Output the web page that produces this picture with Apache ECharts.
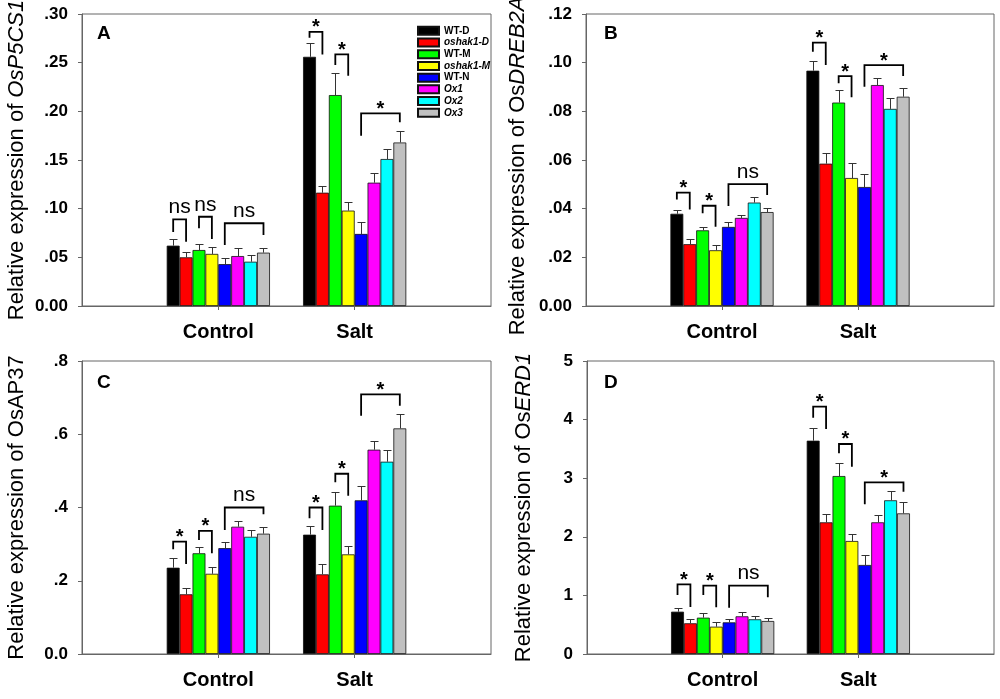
<!DOCTYPE html>
<html><head><meta charset="utf-8">
<script src="https://cdn.jsdelivr.net/npm/echarts@6/dist/echarts.min.js"></script>
<style>html,body{margin:0;padding:0;background:#fff}#c{width:1000px;height:699px}</style>
</head><body><div id="c"></div>
<script>
// ---------- data ----------
const categories = ['', 'Control', 'Salt', ''];
const genotypes = ['WT-D', 'oshak1-D', 'WT-M', 'oshak1-M', 'WT-N', 'Ox1', 'Ox2', 'Ox3'];
const italicNames = ['oshak1-D', 'oshak1-M', 'Ox1', 'Ox2', 'Ox3'];

// Panel A : OsP5CS1
const aControl    = [0.062, 0.050, 0.0575, 0.0535, 0.043, 0.0513, 0.0455, 0.0548];
const aControlErr = [0.007, 0.005, 0.006, 0.007, 0.006, 0.008, 0.007, 0.005];
const aSalt       = [0.256, 0.1164, 0.2167, 0.098, 0.074, 0.1267, 0.151, 0.168];
const aSaltErr    = [0.014, 0.007, 0.023, 0.009, 0.012, 0.0096, 0.010, 0.012];
const aTicks = ['0.00', '.05', '.10', '.15', '.20', '.25', '.30'];
// [group, fromBar, toBar, top, leftLegEnd, rightLegEnd, label]
const aBrackets = [
  [1, 0, 1, 0.089, 0.076, 0.066, 'ns'],
  [1, 2, 3, 0.0917, 0.080, 0.0688, 'ns'],
  [1, 4, 7, 0.085, 0.0626, 0.073, 'ns'],
  [2, 0, 1, 0.2817, 0.2755, 0.2585, '*'],
  [2, 2, 3, 0.2585, 0.2475, 0.2366, '*'],
  [2, 4, 7, 0.198, 0.175, 0.1887, '*']
];

// Panel B : OsDREB2A
const bControl    = [0.0379, 0.0254, 0.0311, 0.0229, 0.0325, 0.0362, 0.0425, 0.0386];
const bControlErr = [0.0016, 0.0020, 0.0012, 0.0020, 0.0022, 0.0013, 0.0023, 0.0017];
const bSalt       = [0.0967, 0.0585, 0.0836, 0.0526, 0.0489, 0.0908, 0.081, 0.086];
const bSaltErr    = [0.0039, 0.0045, 0.005, 0.0063, 0.0053, 0.003, 0.0046, 0.0035];
const bTicks = ['0.00', '.02', '.04', '.06', '.08', '.10', '.12'];
const bBrackets = [
  [1, 0, 1, 0.0466, 0.0438, 0.0397, '*'],
  [1, 2, 3, 0.0412, 0.0381, 0.0326, '*'],
  [1, 4, 7, 0.0501, 0.0411, 0.0456, 'ns'],
  [2, 0, 1, 0.1082, 0.1045, 0.099, '*'],
  [2, 2, 3, 0.0945, 0.0915, 0.0858, '*'],
  [2, 4, 7, 0.099, 0.0901, 0.0945, '*']
];

// Panel C : OsAP37
const cControl    = [0.2356, 0.163, 0.275, 0.219, 0.289, 0.3475, 0.320, 0.3285];
const cControlErr = [0.0256, 0.018, 0.016, 0.019, 0.017, 0.0165, 0.0185, 0.018];
const cSalt       = [0.3258, 0.2175, 0.405, 0.272, 0.4196, 0.5578, 0.525, 0.616];
const cSaltErr    = [0.0228, 0.028, 0.038, 0.022, 0.040, 0.025, 0.031, 0.040];
const cTicks = ['0.0', '.2', '.4', '.6', '.8'];
const cBrackets = [
  [1, 0, 1, 0.3066, 0.286, 0.2457, '*'],
  [1, 2, 3, 0.336, 0.311, 0.275, '*'],
  [1, 4, 7, 0.400, 0.3385, 0.3814, 'ns'],
  [2, 0, 1, 0.400, 0.3705, 0.3385, '*'],
  [2, 2, 3, 0.4922, 0.4687, 0.432, '*'],
  [2, 4, 7, 0.709, 0.6506, 0.678, '*']
];

// Panel D : OsERD1
const dControl    = [0.722, 0.524, 0.620, 0.466, 0.540, 0.643, 0.592, 0.563];
const dControlErr = [0.068, 0.073, 0.074, 0.085, 0.057, 0.079, 0.056, 0.046];
const dSalt       = [3.64, 2.247, 3.037, 1.928, 1.519, 2.247, 2.623, 2.40];
const dSaltErr    = [0.21, 0.142, 0.228, 0.125, 0.171, 0.125, 0.164, 0.20];
const dTicks = ['0', '1', '2', '3', '4', '5'];
const dBrackets = [
  [1, 0, 1, 1.189, 1.007, 0.802, '*'],
  [1, 2, 3, 1.166, 1.007, 0.797, '*'],
  [1, 4, 7, 1.166, 0.790, 0.968, 'ns'],
  [2, 0, 1, 4.22, 4.033, 3.84, '*'],
  [2, 2, 3, 3.584, 3.425, 3.197, '*'],
  [2, 4, 7, 2.93, 2.555, 2.77, '*']
];

// ---------- styling / layout ----------
const FONT = 'Liberation Sans, Arial, sans-serif';
const colors = ['#000000', '#ff0000', '#00ff00', '#ffff00', '#0000ff', '#ff00ff', '#00ffff', '#c0c0c0'];
const BW = 12.9;
const AX = '#666';
const NAME_SIZE = 22;

const panels = [
  { letter: 'A', gene: [['n', 'Relative expression of '], ['i', 'OsP5CS1']], control: aControl, controlErr: aControlErr, salt: aSalt, saltErr: aSaltErr, ticks: aTicks, max: 0.30, interval: 0.05, brackets: aBrackets,
    grid: { left: 82, top: 14, width: 409, height: 292 }, nameGap: 54, namePad: [0, 0, 0, 0], letterPos: [97, 24] },
  { letter: 'B', gene: [['n', 'Relative expression of Os'], ['i', 'DREB2A']], control: bControl, controlErr: bControlErr, salt: bSalt, saltErr: bSaltErr, ticks: bTicks, max: 0.12, interval: 0.02, brackets: bBrackets,
    grid: { left: 586, top: 14, width: 408, height: 292 }, nameGap: 57, namePad: [0, 12, 0, 0], letterPos: [604, 24] },
  { letter: 'C', gene: [['n', 'Relative expression of OsAP37']], control: cControl, controlErr: cControlErr, salt: cSalt, saltErr: cSaltErr, ticks: cTicks, max: 0.8, interval: 0.2, brackets: cBrackets,
    grid: { left: 82, top: 361, width: 409, height: 293 }, nameGap: 54, namePad: [0, 0, 0, 0], letterPos: [97, 373] },
  { letter: 'D', gene: [['n', 'Relative expression of Os'], ['i', 'ERD1']], control: dControl, controlErr: dControlErr, salt: dSalt, saltErr: dSaltErr, ticks: dTicks, max: 5, interval: 1, brackets: dBrackets,
    grid: { left: 587, top: 361, width: 407, height: 293 }, nameGap: 52, namePad: [0, 0, 0, 0], letterPos: [604, 373] }
];

const grids = [], xAxes = [], yAxes = [], series = [], graphics = [];

panels.forEach((p, gi) => {
  grids.push(Object.assign({ show: true, borderColor: AX, borderWidth: 1, backgroundColor: 'transparent',
    containLabel: false, outerBoundsMode: 'none' }, p.grid));
  xAxes.push({
    type: 'category', gridIndex: gi, data: categories, boundaryGap: false,
    axisLine: { lineStyle: { color: AX, width: 1 } },
    axisTick: { show: true, length: 4, interval: (i) => i === 1 || i === 2, lineStyle: { color: AX } },
    axisLabel: { interval: (i) => i === 1 || i === 2, margin: 16, fontSize: 20, fontWeight: 'bold', color: '#000', fontFamily: FONT },
    splitLine: { show: false }
  });
  const rich = {
    n: { fontSize: NAME_SIZE, fontFamily: FONT, color: '#000' },
    i: { fontSize: NAME_SIZE, fontFamily: FONT, color: '#000', fontStyle: 'italic' }
  };
  yAxes.push({
    type: 'value', gridIndex: gi, min: 0, max: p.max, interval: p.interval,
    name: p.gene.map(g => '{' + g[0] + '|' + g[1] + '}').join(''),
    nameLocation: 'middle', nameGap: p.nameGap,
    nameTextStyle: { fontSize: NAME_SIZE, fontFamily: FONT, color: '#000', rich: rich, padding: p.namePad },
    axisLine: { show: true, lineStyle: { color: AX, width: 1 } },
    axisTick: { show: true, length: 4, lineStyle: { color: AX } },
    axisLabel: { margin: 14, fontSize: 17, fontWeight: 'bold', color: '#000', fontFamily: FONT,
      formatter: (v) => p.ticks[Math.round(v / p.interval)] },
    splitLine: { show: false }
  });
  genotypes.forEach((g, bi) => {
    series.push({
      type: 'bar', name: g, xAxisIndex: gi, yAxisIndex: gi,
      data: [null, p.control[bi], p.salt[bi], null],
      barWidth: BW, barGap: '0%',
      itemStyle: { color: colors[bi], borderColor: '#111', borderWidth: 0.8 },
      emphasis: { disabled: true }, z: 2
    });
  });
  // error bars
  const errData = [];
  genotypes.forEach((g, bi) => {
    errData.push([1, bi, p.control[bi], p.controlErr[bi]]);
    errData.push([2, bi, p.salt[bi], p.saltErr[bi]]);
  });
  series.push({
    type: 'custom', xAxisIndex: gi, yAxisIndex: gi, z: 3, silent: true,
    data: errData, encode: { x: 0, y: 2 },
    renderItem: (params, api) => {
      const cat = api.value(0), bi = api.value(1), m = api.value(2), e = api.value(3);
      const b = api.coord([cat, m]);
      const t = api.coord([cat, m + e]);
      const x = Math.round(b[0] + (bi - 3.5) * BW) + 0.5;
      const yt = Math.round(t[1]) + 0.5;
      return { type: 'group', children: [
        { type: 'line', shape: { x1: x, y1: b[1], x2: x, y2: yt }, style: { stroke: '#333', lineWidth: 1 } },
        { type: 'line', shape: { x1: x - 4, y1: yt, x2: x + 4, y2: yt }, style: { stroke: '#333', lineWidth: 1 } }
      ] };
    }
  });
  // significance brackets
  const br = p.brackets;
  series.push({
    type: 'custom', xAxisIndex: gi, yAxisIndex: gi, z: 4, silent: true,
    data: br.map(r => r.slice(0, 6)), encode: { x: 0, y: 3 },
    renderItem: (params, api) => {
      const r = br[params.dataIndex];
      const cat = r[0];
      const c0 = api.coord([cat, r[3]]);
      const xl = c0[0] + (r[1] - 3.5) * BW;
      const xr = c0[0] + (r[2] - 3.5) * BW;
      const yt = c0[1];
      const yl = api.coord([cat, r[4]])[1];
      const yr = api.coord([cat, r[5]])[1];
      const isStar = r[6] === '*';
      return { type: 'group', children: [
        { type: 'polyline', shape: { points: [[xl, yl], [xl, yt], [xr, yt], [xr, yr]] },
          style: { stroke: '#000', lineWidth: 1.8, fill: null } },
        { type: 'text', x: (xl + xr) / 2, y: yt - (isStar ? 4 : 12),
          style: { text: r[6], textAlign: 'center', textVerticalAlign: 'middle',
            font: (isStar ? 'bold 20px ' : '21px ') + FONT, fill: '#000' } }
      ] };
    }
  });
  graphics.push({ type: 'text', left: p.letterPos[0], top: p.letterPos[1],
    style: { text: p.letter, font: 'bold 19px ' + FONT, fill: '#000' } });
});

const chart = echarts.init(document.getElementById('c'), null, { renderer: 'canvas' });
chart.setOption({
  backgroundColor: '#fff',
  animation: false,
  grid: grids,
  xAxis: xAxes,
  yAxis: yAxes,
  legend: {
    data: genotypes, orient: 'vertical', left: 417, top: 25, padding: 0,
    itemWidth: 21, itemHeight: 8, itemGap: 0, icon: 'rect', selectedMode: false,
    formatter: (name) => (italicNames.indexOf(name) >= 0 ? '{i|' : '{n|') + name + '}',
    textStyle: { fontSize: 10, fontWeight: 'bold', fontFamily: FONT, color: '#000', lineHeight: 11.7,
      rich: {
        n: { fontSize: 10, fontWeight: 'bold', fontFamily: FONT, color: '#000', lineHeight: 11.7 },
        i: { fontSize: 10, fontWeight: 'bold', fontStyle: 'italic', fontFamily: FONT, color: '#000', lineHeight: 11.7 }
      } }
  },
  graphic: graphics,
  series: series
});
</script>
</body></html>
